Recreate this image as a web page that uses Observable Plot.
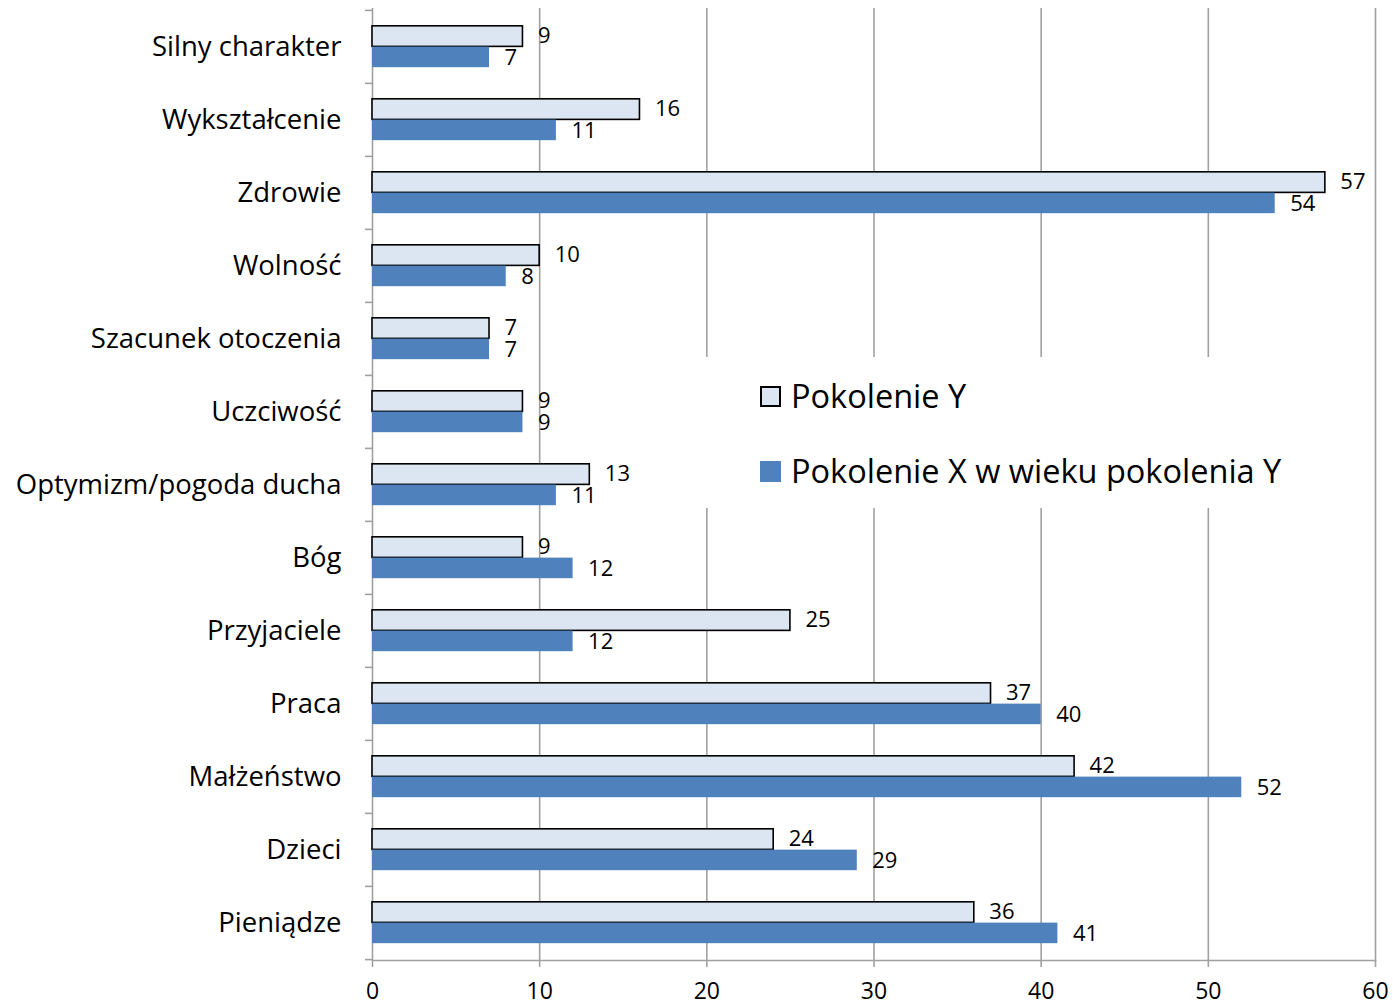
<!DOCTYPE html>
<html>
<head>
<meta charset="utf-8">
<script src="https://cdn.jsdelivr.net/npm/d3@7"></script>
<script src="https://cdn.jsdelivr.net/npm/@observablehq/plot@0.6"></script>
<style>
  body { margin: 0; background: #fff; }
  #wrap { position: relative; width: 1393px; height: 1006px; font-family: "Open Sans", sans-serif; }
  #legend { position: absolute; left: 690px; top: 357px; width: 620px; height: 151px; background: #fff; }
  .li { position: absolute; left: 70px; display: flex; align-items: center; font-size: 32.5px; line-height: 40px; color: #000; white-space: nowrap; }
  .sw { width: 21px; height: 21px; margin-right: 10px; box-sizing: border-box; }
</style>
</head>
<body>
<div id="wrap"></div>
<script>
const categories = ["Silny charakter", "Wykształcenie", "Zdrowie", "Wolność", "Szacunek otoczenia", "Uczciwość", "Optymizm/pogoda ducha", "Bóg", "Przyjaciele", "Praca", "Małżeństwo", "Dzieci", "Pieniądze"];
const seriesNames = ["Pokolenie Y", "Pokolenie X w wieku pokolenia Y"];
const valuesY = [9, 16, 57, 10, 7, 9, 13, 9, 25, 37, 42, 24, 36];
const valuesX = [7, 11, 54, 8, 7, 9, 11, 12, 12, 40, 52, 29, 41];
const xTicks = [0, 10, 20, 30, 40, 50, 60];
const colors = ["#dce6f2", "#4f81bd"];

const dataY = categories.map((c, i) => ({ cat: c, v: valuesY[i] }));
const dataX = categories.map((c, i) => ({ cat: c, v: valuesX[i] }));

const W = 1393, H = 1006, mL = 372, mR = 18, mT = 8, mB = 46;
const step = (H - mT - mB) / categories.length;
const barH = 20.8;
const outer = (step - 2 * barH) / 2;

const chart = Plot.plot({
  width: W, height: H,
  marginLeft: mL, marginRight: mR, marginTop: mT, marginBottom: mB,
  style: { fontFamily: "Open Sans, sans-serif", background: "#fff", color: "#000" },
  x: { domain: [0, 60], ticks: xTicks },
  y: { domain: categories, padding: 0 },
  marks: [
    Plot.gridX(xTicks.slice(1), { stroke: "#a0a0a0", strokeOpacity: 1, strokeWidth: 1.6 }),
    Plot.ruleX([0], { stroke: "#a0a0a0", strokeWidth: 1.6 }),
    Plot.frame({ anchor: "bottom", stroke: "#a0a0a0", strokeWidth: 1.6 }),
    Plot.axisX({ ticks: xTicks, tickSize: 7, tickPadding: 15, stroke: "#a0a0a0", strokeWidth: 1.6, fontSize: 23, fill: "#000", label: null }),
    Plot.axisY({ tickSize: 0, tickPadding: 31, fontSize: 27.5, fill: "#000", label: null }),
    Plot.axisY({ tickSize: 7, tickFormat: () => "", dy: -step / 2, stroke: "#a0a0a0", strokeWidth: 1.6, label: null }),
    Plot.axisY({ ticks: categories.slice(-1), tickSize: 7, tickFormat: () => "", dy: step / 2, stroke: "#a0a0a0", strokeWidth: 1.6, label: null }),
    Plot.barX(dataY, { x: "v", y: "cat", fill: colors[0], stroke: "#000", strokeWidth: 1.6, insetTop: outer, insetBottom: outer + barH }),
    Plot.barX(dataX, { x: "v", y: "cat", fill: colors[1], insetTop: outer + barH, insetBottom: outer }),
    Plot.text(dataY, { x: "v", y: "cat", text: d => String(d.v), textAnchor: "start", dx: 15, dy: -barH / 2 - 0.5, fontSize: 22, fill: "#000" }),
    Plot.text(dataX, { x: "v", y: "cat", text: d => String(d.v), textAnchor: "start", dx: 15, dy: barH / 2 + 1, fontSize: 22, fill: "#000" })
  ]
});

const wrap = document.getElementById("wrap");
wrap.appendChild(chart);

const legend = document.createElement("div");
legend.id = "legend";
seriesNames.forEach((name, i) => {
  const item = document.createElement("div");
  item.className = "li";
  item.style.top = (i === 0 ? 19 : 94) + "px";
  const sw = document.createElement("span");
  sw.className = "sw";
  sw.style.background = colors[i];
  if (i === 0) sw.style.border = "2px solid #000";
  const t = document.createElement("span");
  t.textContent = name;
  item.appendChild(sw);
  item.appendChild(t);
  legend.appendChild(item);
});
wrap.appendChild(legend);
</script>
</body>
</html>
